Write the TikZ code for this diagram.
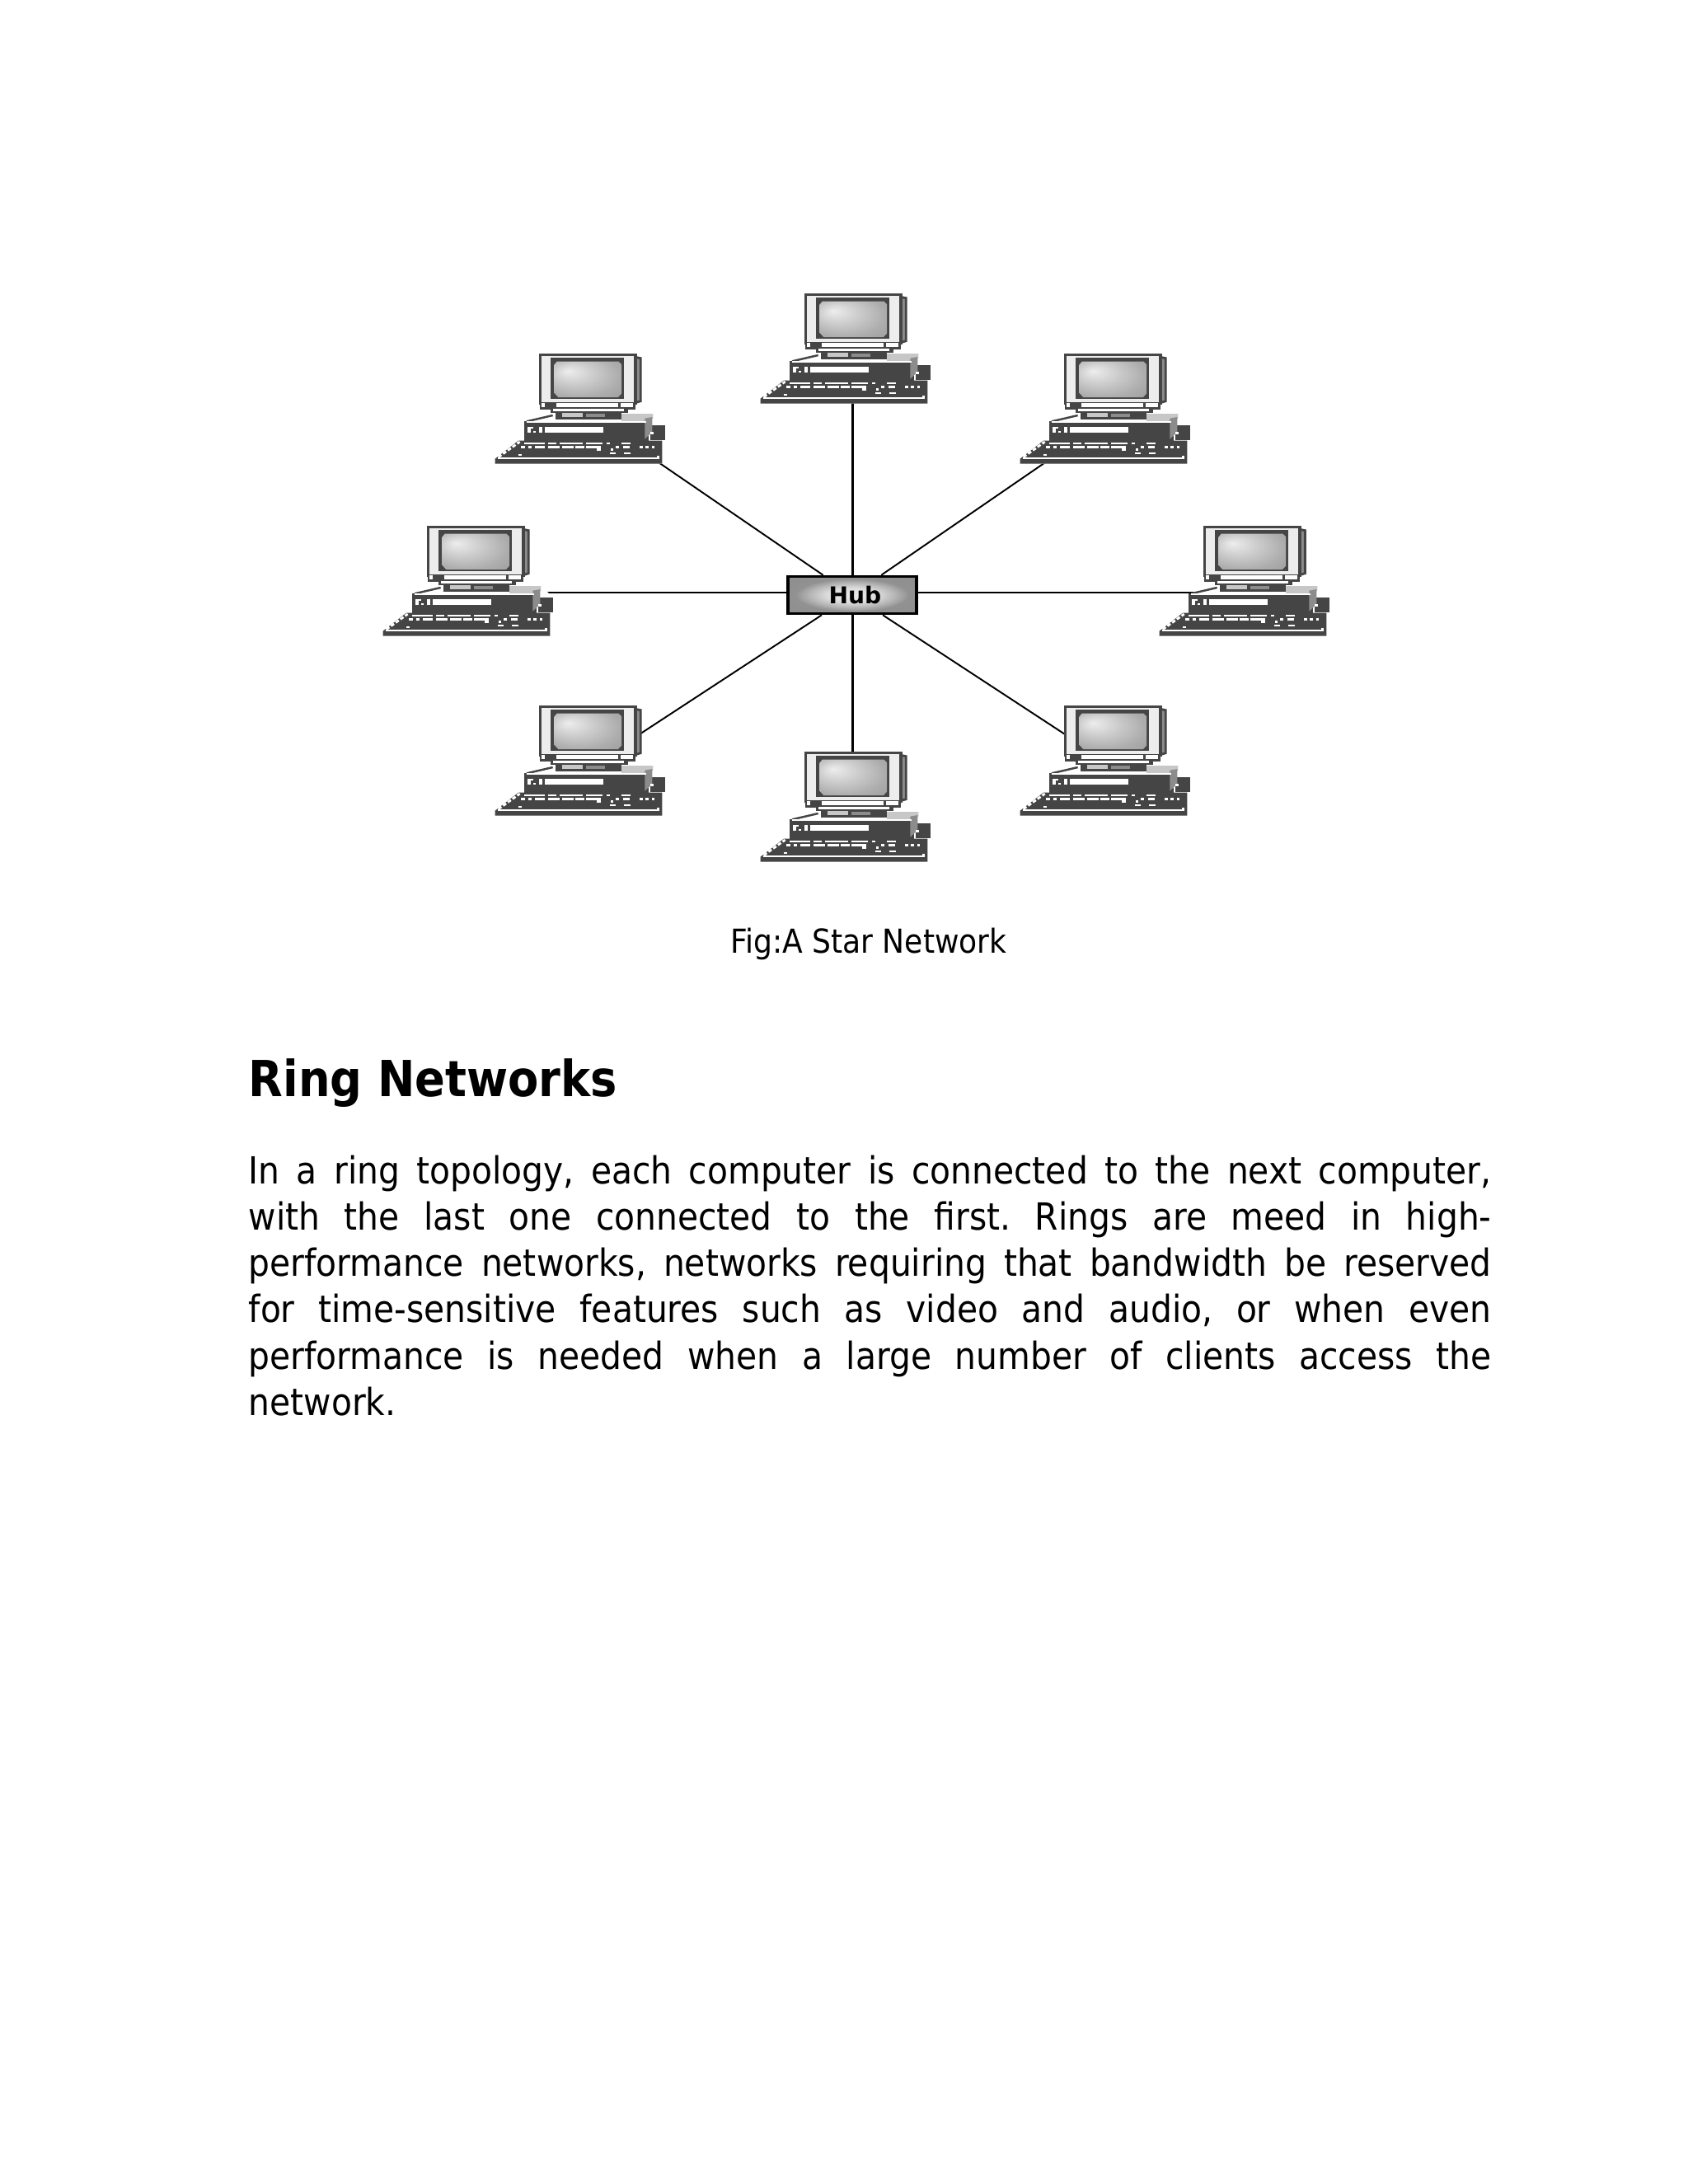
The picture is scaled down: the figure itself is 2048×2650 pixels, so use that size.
\documentclass[tikz,border=0pt]{standalone}
\usepackage{fontspec}
\setmainfont{DejaVu Sans Condensed}[BoldFont={DejaVu Sans Condensed Bold}]
\usepackage{tikz}
\usetikzlibrary{calc}
\frenchspacing
\definecolor{pcdark}{gray}{0.27}
\definecolor{pcmid}{gray}{0.55}
\definecolor{pclight}{gray}{0.78}
\definecolor{pcpale}{gray}{0.93}
\pgfdeclareradialshading{screenglow}{\pgfpoint{-15bp}{12bp}}{gray(0bp)=(0.93); gray(15bp)=(0.80); gray(30bp)=(0.68); gray(55bp)=(0.55)}
\pgfdeclareradialshading{hubglow}{\pgfpoint{0bp}{0bp}}{gray(0bp)=(0.92); gray(10bp)=(0.86); gray(17bp)=(0.70); gray(22bp)=(0.57); gray(50bp)=(0.54)}
\tikzset{
    pics/computer/.style={code={
        \begin{scope}[scale=1/3, shift={(-370,-260)}]
        % outline, keeps the cables behind
        \fill[white] (222,62) -- (590,62) -- (590,278) -- (635,278) -- (680,320) -- (680,375) -- (668,375) -- (668,460) -- (60,460) -- (60,442) -- (167,360) -- (167,308) -- (262,272) -- (222,260) -- cycle;
        % monitor
        \fill[pcmid, draw=pcdark, line width=0.8pt] (570,72) -- (590,76) -- (590,232) -- (570,238) -- cycle;
        \fill[pcpale, draw=pcdark, line width=0.9pt] (224,64) rectangle (571,240);
        \fill[pcdark] (263,75) rectangle (530,225);
        \shade[shading=screenglow] (275,100) -- (285,88) -- (510,88) -- (520,98) -- (520,205) -- (508,218) -- (290,218) -- (275,202) -- cycle;
        \fill[pcdark] (222,235) rectangle (572,262);
        \fill[white] (230,238) rectangle (242,254);
        \fill[white] (282,240) rectangle (508,254);
        \fill[white] (518,240) rectangle (562,254);
        \fill[pcdark] (262,258) rectangle (545,274);
        \fill[white] (272,260) rectangle (530,268);
        % case
        \fill[pcdark] (280,272) rectangle (520,300);
        \fill[pclight] (305,275) rectangle (380,290);
        \fill[pcmid] (390,278) rectangle (460,290);
        \fill[pclight] (520,278) -- (635,278) -- (635,295) -- (605,312) -- (520,308) -- cycle;
        \draw[pcdark, line width=0.7pt] (175,306) -- (270,284);
        \fill[pcdark] (167,306) rectangle (620,378);
        \fill[pcdark] (625,320) rectangle (680,375);
        \fill[pcmid] (605,295) -- (632,290) -- (632,345) -- (605,370) -- cycle;
        \fill[white] (175,306) rectangle (610,311);
        \fill[white] (178,325) rectangle (190,347);
        \fill[white] (190,325) rectangle (200,333);
        \fill[white] (200,340) rectangle (208,347);
        \fill[white] (220,325) rectangle (232,347);
        \fill[white] (240,325) rectangle (455,347);
        \fill[white] (625,345) rectangle (637,352);
        % keyboard
        \fill[pcdark] (145,376) -- (668,376) -- (668,460) -- (60,460) -- (60,442) -- cycle;
        \fill[white] (70,437) rectangle (658,443);
        \fill[white] (650,432) rectangle (658,443);
        \draw[white, line width=0.8pt, dash pattern=on 1.3pt off 0.7pt] (72,436) -- (150,380);
        % keys
        \fill[white] (165,383) rectangle (240,388);
        \fill[white] (252,383) rectangle (282,388);
        \fill[white] (295,383) rectangle (380,388);
        \fill[white] (392,383) rectangle (452,388);
        \fill[white] (465,383) rectangle (478,388);
        \fill[white] (520,383) rectangle (552,388);
        \fill[white] (155,396) rectangle (168,404);
        \fill[white] (180,396) rectangle (193,404);
        \fill[white] (205,396) rectangle (240,404);
        \fill[white] (252,396) rectangle (295,404);
        \fill[white] (305,396) rectangle (345,404);
        \fill[white] (352,396) rectangle (385,404);
        \fill[white] (392,396) rectangle (445,404);
        \fill[white] (430,404) rectangle (445,412);
        \fill[white] (480,404) rectangle (490,412);
        \fill[white] (500,396) rectangle (512,404);
        \fill[white] (525,396) rectangle (550,404);
        \fill[white] (585,396) rectangle (598,404);
        \fill[white] (608,396) rectangle (620,404);
        \fill[white] (630,396) rectangle (640,404);
        \fill[white] (145,424) rectangle (157,432);
        \fill[white] (478,418) rectangle (498,425);
        \fill[white] (530,418) rectangle (552,425);
        \end{scope}
    }},
    lan/.style={draw=black, line width=0.55pt},
    trunk/.style={draw=black, line width=0.85pt},
    hubbox/.style={minimum width=1.56cm, minimum height=0.45cm, inner sep=0pt, shading=hubglow, draw=black, line width=1pt, font=\fontsize{8pt}{10pt}\selectfont\fontspec{DejaVu Sans Bold}},
    body/.style={anchor=north west, inner sep=0pt, font=\fontsize{12.9pt}{16pt}\selectfont}
}
\begin{document}
\begin{tikzpicture}[x=0.01cm, y=-0.01cm]
        \useasboundingbox[fill=white] (0,0) rectangle (2048,2650);

        % Star
        \coordinate (pc1) at (1026,423);
        \coordinate (pc2) at (704,496);
        \coordinate (pc3) at (1341,496);
        \coordinate (pc4) at (568,705);
        \coordinate (pc5) at (1510,705);
        \coordinate (pc6) at (704,923);
        \coordinate (pc7) at (1026,979);
        \coordinate (pc8) at (1341,923);

        \node[hubbox] (hub) at (1034,722) {\hspace{2pt}Hub};

        \draw[trunk] (hub) -- (hub |- pc1);
        \draw[lan] (hub) -- (pc2);
        \draw[lan] (hub) -- ($(pc3)+(0,15)$);
        \draw[lan] ($(hub.west)+(0,-3)$) -- ($(hub.west -| pc4)+(0,-3)$);
        \draw[lan] ($(hub.east)+(0,-3)$) -- ($(hub.east -| pc5)+(0,-3)$);
        \draw[lan] (hub) -- ($(pc6)+(0,15)$);
        \draw[trunk] (hub) -- (hub |- pc7);
        \draw[lan] (hub) -- (pc8);

        \pic at (pc1) {computer};
        \pic at (pc2) {computer};
        \pic at (pc3) {computer};
        \pic at (pc4) {computer};
        \pic at (pc5) {computer};
        \pic at (pc6) {computer};
        \pic at (pc7) {computer};
        \pic at (pc8) {computer};

        % Text
        \node[anchor=base, inner sep=0pt, font=\fontsize{11.4pt}{14pt}\selectfont] (caption) at (1054,1156) {Fig:A Star Network};
        \node[anchor=base west, inner sep=0pt, font=\fontsize{17.15pt}{22pt}\selectfont\bfseries] (title) at (301,1330) {Ring Networks};
        \node[body, text width=15.07cm, align=justify] (para) at (301,1401) {In a ring topology, each computer is connected to the next computer,\linebreak with the last one connected to the first. Rings are meed in high-\linebreak performance networks, networks requiring that bandwidth be reserved\linebreak for time-sensitive features such as video and audio, or when even\linebreak performance is needed when a large number of clients access the\linebreak network.};
\end{tikzpicture}
\end{document}
